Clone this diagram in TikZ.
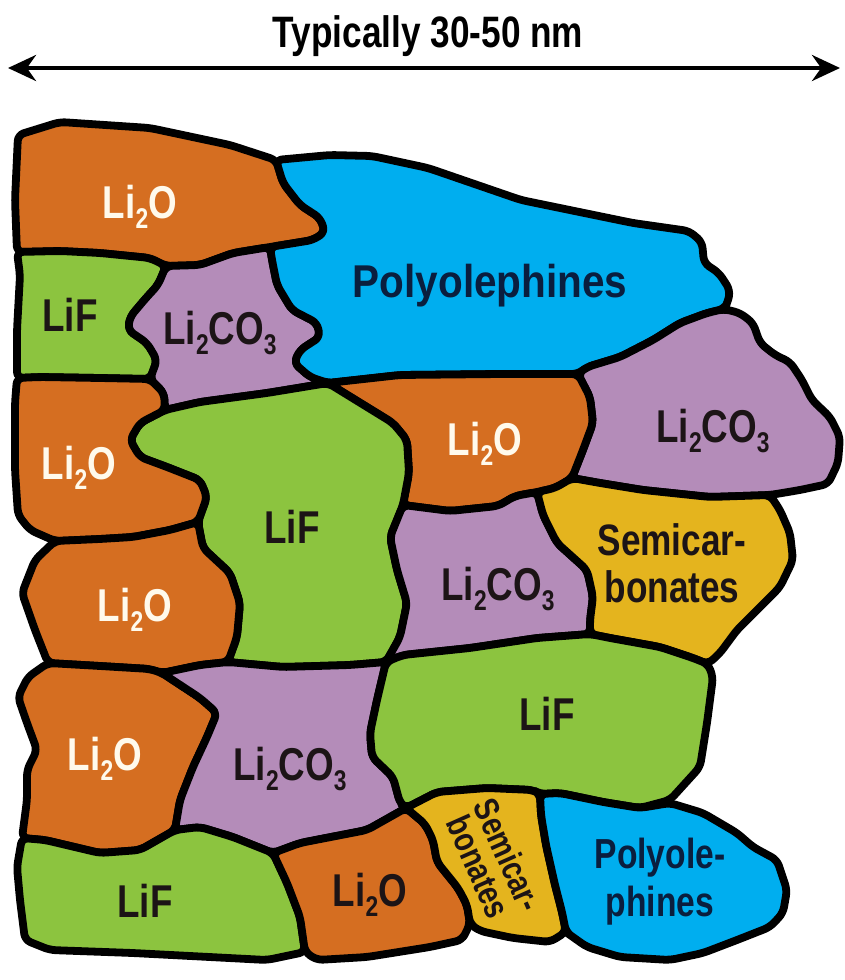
\documentclass[tikz,border=0pt]{standalone}
\usepackage{fontspec}
\usepackage{graphicx}
\usetikzlibrary{arrows.meta}
\newfontfamily\labfont{Liberation Sans}[FakeStretch=0.8]
\definecolor{cOr}{RGB}{213,110,33}
\definecolor{cGr}{RGB}{140,196,63}
\definecolor{cPu}{RGB}{180,140,185}
\definecolor{cBl}{RGB}{0,174,239}
\definecolor{cYe}{RGB}{228,180,30}
\definecolor{tWh}{RGB}{255,250,236}
\definecolor{tDk}{RGB}{28,20,22}
\definecolor{tNv}{RGB}{10,30,62}
\newcommand\lsub[1]{\raisebox{-0.22em}{\scalebox{0.62}{#1}}}
\tikzset{
  blob/.style={draw=black, line width=7.8pt, line join=round, rounded corners=6pt},
  orblob/.style={blob, fill=cOr},
  grblob/.style={blob, fill=cGr},
  publob/.style={blob, fill=cPu},
  blblob/.style={blob, fill=cBl},
  yeblob/.style={blob, fill=cYe},
  lab/.style={font=\labfont\bfseries\fontsize{46}{50}\selectfont, anchor=base, inner sep=0pt, text=tDk},
  labw/.style={lab, text=tWh},
  labs/.style={font=\labfont\bfseries\fontsize{44}{47}\selectfont, align=center, inner sep=0pt, text=tDk},
  labq/.style={font=\labfont\bfseries\fontsize{35}{36}\selectfont, anchor=base, inner sep=0pt, text=tDk, rotate=-66},
  titlefont/.style={font=\labfont\bfseries\fontsize{44}{46}\selectfont, anchor=base, inner sep=0pt, text=black},
}
\begin{document}
\begin{tikzpicture}[x=1pt,y=-1pt]
\useasboundingbox (0,0) rectangle (845,980);
% junctions
\coordinate (j1) at (276,160);
\coordinate (j2) at (166,266);
\coordinate (j3) at (270,247);
\coordinate (j4) at (150,379);
\coordinate (jA0) at (17,252);
\coordinate (jBH) at (17,378);
\coordinate (j7) at (165,410);
\coordinate (j6) at (328,383);
\coordinate (j5) at (578,374);
\coordinate (jE1) at (724,309);
\coordinate (jEKo) at (770,495);
\coordinate (jEFK) at (572,478);
\coordinate (jFJK) at (537,492);
\coordinate (jFGJ) at (403,505);
\coordinate (jGJMN) at (386,662);
\coordinate (jGIM) at (228,662);
\coordinate (jGHI) at (198,522);
\coordinate (jHIo) at (55,541);
\coordinate (jILM) at (162,673);
\coordinate (jILo) at (48,663);
\coordinate (jLMO) at (175,830);
\coordinate (jLOo) at (22,838);
\coordinate (jMOP) at (273,853);
\coordinate (jMNPQ) at (406,808);
\coordinate (jNQR) at (540,794);
\coordinate (jNRo) at (640,808);
\coordinate (jKNo) at (708,664);
\coordinate (jJKN) at (590,634);
\coordinate (jPQo) at (470,924);
\coordinate (jQRo) at (566,932);
\coordinate (jOPo) at (305,952);

% title and arrow
\node[titlefont] (title) at (428,47) {Typically 30-50 nm};
\coordinate (aL) at (8,68);
\coordinate (aR) at (840,68);
\draw[line width=4pt, {Stealth[length=28pt,width=26pt]}-{Stealth[length=28pt,width=26pt]}] (aL) -- (aR);

% A Li2O top-left
\draw[orblob] (j1) -- (230,145) -- (150,128) -- (60,122) -- (18,135) -- (15,200) -- (jA0) -- (60,251) -- (100,253) -- (150,258) -- (j2) -- (200,265) -- (233,253) -- (j3) -- (313,240) -- (325,232) -- (320,218) -- (300,205) -- (283,183) -- cycle;
% B LiF top
\draw[grblob] (jA0) -- (60,251) -- (100,253) -- (150,258) -- (j2) -- (158,285) -- (146,298) -- (130,317) -- (128,330) -- (147,343) -- (157,360) -- (j4) -- (100,378) -- (40,377) -- (jBH) -- (17,330) -- (20,275) -- cycle;
% C Li2CO3 top
\draw[publob] (j2) -- (200,265) -- (233,253) -- (j3) -- (272,260) -- (277,285) -- (292,310) -- (317,323) -- (320,337) -- (300,350) -- (294,363) -- (310,377) -- (j6) -- (267,393) -- (200,402) -- (j7) -- (164,393) -- (j4) -- (157,360) -- (147,343) -- (128,330) -- (130,317) -- (146,298) -- (158,285) -- cycle;
% D Polyolephines
\draw[blblob] (j1) -- (330,155) -- (372,156) -- (428,168) -- (521,200) -- (633,223) -- (689,231) -- (702,242) -- (704,263) -- (719,273) -- (730,290) -- (728,302) -- (jE1) -- (707,313) -- (680,323) -- (653,340) -- (620,357) -- (587,367) -- (j5) -- (500,374) -- (400,375) -- (j6) -- (310,377) -- (294,363) -- (300,350) -- (320,337) -- (317,323) -- (292,310) -- (277,285) -- (272,260) -- (j3) -- (313,240) -- (325,232) -- (320,218) -- (300,205) -- (283,183) -- cycle;
% E Li2CO3 right
\draw[publob] (j5) -- (587,367) -- (620,357) -- (653,340) -- (680,323) -- (707,313) -- (jE1) -- (740,313) -- (753,323) -- (760,343) -- (775,355) -- (790,362) -- (802,380) -- (812,400) -- (830,417) -- (840,437) -- (838,463) -- (828,484) -- (800,490) -- (jEKo) -- (710,497) -- (643,490) -- (600,483) -- (jEFK) -- (583,450) -- (593,423) -- (590,397) -- cycle;
% F Li2O middle right
\draw[orblob] (j6) -- (400,375) -- (500,374) -- (j5) -- (590,397) -- (593,423) -- (583,450) -- (jEFK) -- (555,488) -- (jFJK) -- (515,496) -- (498,506) -- (450,511) -- (jFGJ) -- (409,473) -- (407,440) -- (393,423) -- (367,407) -- cycle;
% G LiF big
\draw[grblob] (j7) -- (200,402) -- (267,393) -- (j6) -- (367,407) -- (393,423) -- (407,440) -- (409,473) -- (jFGJ) -- (390,537) -- (397,570) -- (407,603) -- (400,637) -- (jGJMN) -- (350,665) -- (283,667) -- (jGIM) -- (237,637) -- (240,603) -- (230,573) -- (203,548) -- (jGHI) -- (207,497) -- (200,480) -- (167,467) -- (140,457) -- (130,440) -- (140,423) -- cycle;
% H Li2O left middle
\draw[orblob] (jBH) -- (40,377) -- (100,378) -- (j4) -- (164,393) -- (j7) -- (140,423) -- (130,440) -- (140,457) -- (167,467) -- (200,480) -- (207,497) -- (jGHI) -- (170,530) -- (133,537) -- (100,539) -- (jHIo) -- (30,530) -- (18,515) -- (15,470) -- (15,403) -- cycle;
% I Li2O left lower
\draw[orblob] (jHIo) -- (100,539) -- (133,537) -- (170,530) -- (jGHI) -- (203,548) -- (230,573) -- (240,603) -- (237,637) -- (jGIM) -- (200,665) -- (jILM) -- (150,669) -- (100,666) -- (jILo) -- (35,630) -- (22,593) -- (35,560) -- cycle;
% J Li2CO3 middle
\draw[publob] (jFGJ) -- (450,511) -- (498,506) -- (515,496) -- (jFJK) -- (543,515) -- (557,543) -- (587,570) -- (593,597) -- (590,620) -- (jJKN) -- (537,638) -- (470,648) -- (403,655) -- (jGJMN) -- (400,637) -- (407,603) -- (397,570) -- (390,537) -- cycle;
% K Semicarbonates right
\draw[yeblob] (jFJK) -- (555,488) -- (jEFK) -- (600,483) -- (643,490) -- (710,497) -- (jEKo) -- (780,510) -- (790,533) -- (793,560) -- (780,587) -- (760,607) -- (737,630) -- (720,653) -- (jKNo) -- (693,658) -- (660,647) -- (610,638) -- (jJKN) -- (590,620) -- (593,597) -- (587,570) -- (557,543) -- (543,515) -- cycle;
% L Li2O bottom-left
\draw[orblob] (jILo) -- (100,666) -- (150,669) -- (jILM) -- (200,698) -- (217,713) -- (207,737) -- (193,767) -- (180,800) -- (jLMO) -- (140,850) -- (100,853) -- (45,840) -- (jLOo) -- (27,800) -- (27,770) -- (37,750) -- (27,723) -- (18,697) -- (28,677) -- cycle;
% M Li2CO3 bottom
\draw[publob] (jILM) -- (200,665) -- (jGIM) -- (283,667) -- (350,665) -- (jGJMN) -- (377,700) -- (370,733) -- (372,757) -- (393,777) -- (400,803) -- (jMNPQ) -- (367,830) -- (300,843) -- (jMOP) -- (233,837) -- (200,827) -- (jLMO) -- (180,800) -- (193,767) -- (207,737) -- (217,713) -- (200,698) -- cycle;
% N LiF right lower
\draw[grblob] (jGJMN) -- (403,655) -- (470,648) -- (537,638) -- (jJKN) -- (610,638) -- (660,647) -- (693,658) -- (jKNo) -- (713,677) -- (707,723) -- (700,767) -- (670,800) -- (jNRo) -- (603,802) -- (560,793) -- (jNQR) -- (533,790) -- (487,788) -- (437,792) -- (jMNPQ) -- (400,803) -- (393,777) -- (372,757) -- (370,733) -- (377,700) -- cycle;
% O LiF bottom-left
\draw[grblob] (jLOo) -- (45,840) -- (100,853) -- (140,850) -- (jLMO) -- (200,827) -- (233,837) -- (jMOP) -- (287,883) -- (300,917) -- (jOPo) -- (267,960) -- (133,953) -- (50,950) -- (25,940) -- (20,900) -- (17,867) -- cycle;
% P Li2O bottom
\draw[orblob] (jMOP) -- (300,843) -- (367,830) -- (jMNPQ) -- (425,824) -- (433,840) -- (437,862) -- (458,888) -- (467,905) -- (jPQo) -- (462,940) -- (430,947) -- (367,957) -- (317,960) -- (jOPo) -- (300,917) -- (287,883) -- cycle;
% Q Semicarbonates bottom
\draw[yeblob] (jMNPQ) -- (437,792) -- (487,788) -- (533,790) -- (jNQR) -- (541,815) -- (546,845) -- (555,885) -- (562,912) -- (jQRo) -- (550,942) -- (513,938) -- (480,931) -- (jPQo) -- (467,905) -- (458,888) -- (437,862) -- (433,840) -- (425,824) -- cycle;
% R Polyolephines bottom
\draw[blblob] (jNQR) -- (560,793) -- (603,802) -- (jNRo) -- (670,803) -- (703,813) -- (737,833) -- (753,847) -- (777,860) -- (787,890) -- (783,913) -- (770,927) -- (737,940) -- (703,953) -- (670,960) -- (620,957) -- (587,947) -- (570,935) -- (jQRo) -- (562,912) -- (555,885) -- (546,845) -- (541,815) -- cycle;

% labels
\node[labw] (tA) at (140,218) {Li\lsub{2}O};
\node[lab] (tB) at (70,331) {LiF};
\node[lab] (tC) at (220,344) {Li\lsub{2}CO\lsub{3}};
\node[lab, text=tNv] (tD) at (490,297) {\scalebox{1.1}[1]{Polyolephines}};
\node[lab] (tE) at (713,442) {Li\lsub{2}CO\lsub{3}};
\node[labw] (tF) at (485,455) {Li\lsub{2}O};
\node[labw] (tH) at (79,479) {Li\lsub{2}O};
\node[lab] (tG) at (292,543) {LiF};
\node[lab] (tJ) at (498,600) {Li\lsub{2}CO\lsub{3}};
\node[labs] (tK) at (672,563) {Semicar-\\bonates};
\node[labw] (tI) at (135,621) {Li\lsub{2}O};
\node[labw] (tL) at (105,770) {Li\lsub{2}O};
\node[lab] (tM) at (290,780) {Li\lsub{2}CO\lsub{3}};
\node[lab] (tN) at (547,730) {LiF};
\node[lab] (tO) at (145,917) {LiF};
\node[lab] (tP) at (370,906) {Li\lsub{2}O};
\node[labq] (tQ1) at (497,860) {Semicar-};
\node[labq] (tQ2) at (467,872) {bonates};
\node[labs, font=\labfont\bfseries\fontsize{42}{48}\selectfont, text=tNv] (tR) at (660,882) {Polyole-\\phines};
\end{tikzpicture}
\end{document}
